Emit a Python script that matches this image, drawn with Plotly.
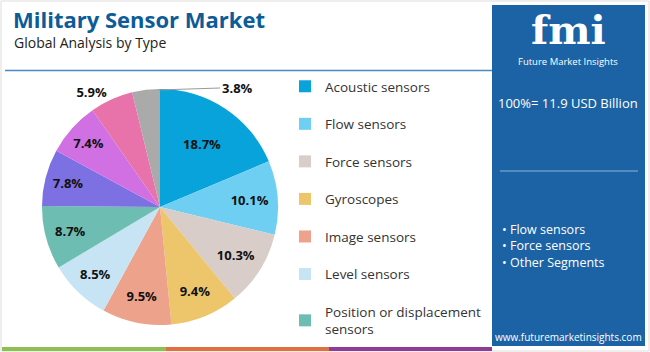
import plotly.graph_objects as go

W, H = 650, 352

categories = ["Acoustic sensors", "Flow sensors", "Force sensors", "Gyroscopes",
              "Image sensors", "Level sensors", "Position or displacement sensors",
              "Other A", "Other B", "Other C", "Other D"]
values = [18.7, 10.1, 10.3, 9.4, 9.5, 8.5, 8.7, 7.8, 7.4, 5.9, 3.8]
colors = ["#07a3da", "#6fcff3", "#d8cdc9", "#edc66c", "#eda38b", "#c6e4f4",
          "#6dbdb3", "#7c70e2", "#d070e3", "#e872aa", "#aaaaaa"]
legend_labels = ["Acoustic sensors", "Flow sensors", "Force sensors", "Gyroscopes",
                 "Image sensors", "Level sensors", "Position or displacement<br>sensors"]
bullets = ["Flow sensors", "Force sensors", "Other Segments"]


def px(x):
    return x / W


def py(y):
    return 1 - y / H


FONT = "Open Sans"
positions = ["inside"] * 9 + ["outside", "none"]
texts = ["%.1f%%" % v for v in values]

fig = go.Figure()
fig.add_trace(go.Pie(
    labels=categories, values=values, sort=False, direction="clockwise", rotation=0,
    marker=dict(colors=colors, line=dict(width=0)),
    text=texts, textinfo="text", textposition=positions,
    insidetextorientation="horizontal",
    textfont=dict(family=FONT, size=13, color="#111111", weight="bold"),
    showlegend=False, hoverinfo="label+percent",
    domain=dict(x=[px(42), px(278)], y=[py(325), py(89)]),
))

for lab, col in zip(legend_labels, colors):
    fig.add_trace(go.Scatter(
        x=[None], y=[None], mode="markers", name=lab, legendgroup=lab,
        marker=dict(symbol="square", size=9, color=col),
    ))

shapes = [
    dict(type="rect", xref="paper", yref="paper", x0=px(1), x1=px(649), y0=py(351), y1=py(1),
         line=dict(color="#dddddd", width=1), fillcolor="rgba(0,0,0,0)"),
    dict(type="line", xref="paper", yref="paper", x0=px(5), x1=px(492), y0=py(70.5), y1=py(70.5),
         line=dict(color="#4a88c4", width=1.5)),
    dict(type="rect", xref="paper", yref="paper", x0=px(492), x1=px(645), y0=py(346), y1=py(5),
         line=dict(width=0), fillcolor="#1b63a4"),
    dict(type="line", xref="paper", yref="paper", x0=px(500), x1=px(638), y0=py(171), y1=py(171),
         line=dict(color="#8fb4d8", width=1)),
    dict(type="rect", xref="paper", yref="paper", x0=px(2), x1=px(166), y0=py(351), y1=py(347),
         line=dict(width=0), fillcolor="#8cc04f"),
    dict(type="rect", xref="paper", yref="paper", x0=px(166), x1=px(329), y0=py(351), y1=py(347),
         line=dict(width=0), fillcolor="#e0703e"),
    dict(type="rect", xref="paper", yref="paper", x0=px(329), x1=px(492), y0=py(351), y1=py(347),
         line=dict(width=0), fillcolor="#8e3c96"),
]

ann = [
    dict(text="<b>Military Sensor Market</b>", x=px(11), y=py(2), xanchor="left", yanchor="top",
         font=dict(family=FONT, size=22, color="#0d5c98")),
    dict(text="Global Analysis by Type", x=px(12), y=py(31), xanchor="left", yanchor="top",
         font=dict(family=FONT, size=14, color="#222222")),
    dict(text="<b>fmi</b>", x=px(568), y=py(30), xanchor="center", yanchor="middle",
         font=dict(family="DejaVu Serif", size=40, color="white")),
    dict(text="Future Market Insights", x=px(568), y=py(61), xanchor="center", yanchor="middle",
         font=dict(family=FONT, size=9.5, color="white")),
    dict(text="100%= 11.9 USD Billion", x=px(568), y=py(103), xanchor="center", yanchor="middle",
         font=dict(family=FONT, size=13, color="white")),
    dict(text="<br>".join("• " + b for b in bullets), x=px(500), y=py(219), xanchor="left",
         yanchor="top", align="left",
         font=dict(family=FONT, size=12.5, color="white")),
    dict(text="www.futuremarketinsights.com", x=px(568), y=py(337), xanchor="center",
         yanchor="middle", font=dict(family=FONT, size=10, color="white")),
    # label for the smallest slice, with a leader line to the top of the pie
    dict(text="<b>" + texts[-1] + "</b>", x=px(158), y=py(90), ax=62, ay=-2,
         showarrow=True, arrowhead=0, arrowwidth=1, arrowcolor="#999999",
         xanchor="left", yanchor="middle",
         font=dict(family=FONT, size=13, color="#111111")),
]
for a in ann:
    a.update(xref="paper", yref="paper")
    a.setdefault("showarrow", False)

fig.update_layout(
    width=W, height=H, margin=dict(l=0, r=0, t=0, b=0),
    paper_bgcolor="white", plot_bgcolor="white",
    xaxis=dict(visible=False), yaxis=dict(visible=False),
    shapes=shapes, annotations=ann,
    legend=dict(x=px(285), y=py(71), xanchor="left", yanchor="top",
                font=dict(family=FONT, size=13.5, color="#333333"),
                tracegroupgap=17, itemsizing="constant", bgcolor="rgba(0,0,0,0)"),
)
fig.write_html("out.html")
